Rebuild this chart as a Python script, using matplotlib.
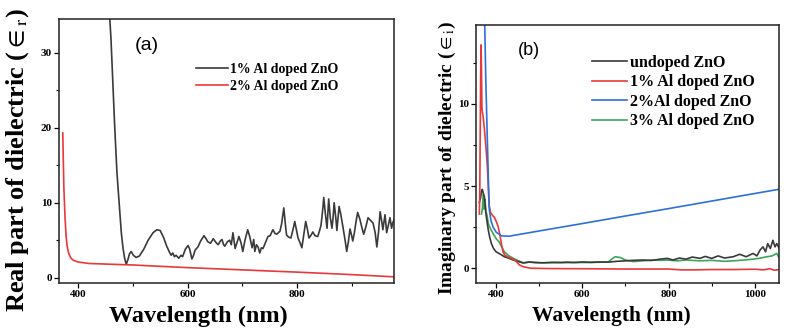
import numpy as np
import matplotlib
matplotlib.use('Agg')
import matplotlib.pyplot as plt
from matplotlib.ticker import MultipleLocator

plt.rcParams['font.family'] = ['Liberation Serif', 'DejaVu Serif']
plt.rcParams['mathtext.fontset'] = 'stix'

# (a) real part, 1% and 2% Al doped ZnO  -> (wavelength nm, value)
real_1pct = [(455, 38), (460, 32), (464, 25), (467, 20), (471, 14), (475, 10), (479, 6), (482, 4), (485, 2.6),
             (488, 1.8), (491, 2.4), (494, 3.2), (497, 3.5), (501, 3.0), (506, 2.7), (512, 2.9), (520, 3.8),
             (528, 5.0), (537, 6.0), (544, 6.4), (550, 6.3), (556, 5.4), (562, 4.2), (567, 3.4), (570, 3.0),
             (573, 3.3), (576, 2.8), (579, 3.0), (584, 2.6), (588, 3.0), (591, 2.8), (596, 3.8), (601, 4.3),
             (604, 3.8), (608, 2.5), (611, 3.0), (614, 3.7), (619, 4.1), (624, 4.9), (630, 5.6), (634, 5.2),
             (637, 4.8), (642, 4.6), (647, 5.2), (652, 4.7), (656, 4.4), (660, 4.9), (663, 5.1), (666, 4.4),
             (668, 4.2), (673, 4.8), (677, 5.0), (680, 4.4), (683, 6.0), (687, 3.9), (690, 4.6), (694, 5.5),
             (698, 4.6), (701, 3.5), (705, 5.0), (710, 6.4), (714, 5.4), (718, 4.0), (721, 5.1), (723, 3.5),
             (726, 4.4), (729, 4.1), (732, 3.3), (735, 4.0), (738, 3.9), (742, 4.6), (747, 5.5), (751, 5.6),
             (756, 6.4), (760, 5.9), (763, 5.8), (766, 6.0), (769, 6.2), (772, 7.2), (776, 9.3), (779, 7.0),
             (781, 5.7), (785, 5.4), (789, 5.3), (793, 6.5), (796, 7.5), (799, 6.4), (802, 5.3), (806, 4.6),
             (809, 4.0), (812, 5.5), (816, 7.5), (819, 6.5), (822, 5.3), (826, 5.7), (829, 6.1), (833, 5.6),
             (838, 5.5), (841, 6.2), (844, 7.0), (847, 9.0), (849, 10.7), (852, 8.5), (855, 6.6), (858, 10.5),
             (861, 8.0), (864, 6.6), (866, 8.0), (868, 10.0), (871, 8.0), (873, 6.3), (877, 9.5), (880, 8.5),
             (884, 6.8), (888, 5.0), (891, 3.5), (894, 4.8), (897, 6.5), (900, 5.6), (902, 4.9), (905, 6.0),
             (908, 7.5), (911, 8.7), (915, 7.8), (919, 6.6), (922, 5.8), (926, 6.8), (930, 8.0), (935, 7.6),
             (939, 7.3), (943, 6.0), (946, 4.1), (949, 6.0), (952, 8.8), (955, 7.5), (957, 6.4), (961, 8.4),
             (964, 6.0), (967, 7.0), (970, 8.0), (973, 6.6), (975, 7.3), (978, 7.8)]
real_2pct = [(372, 19.3), (373, 15.5), (374, 12.0), (376, 8.2), (378, 5.6), (380, 4.2), (383, 3.2), (387, 2.6),
             (392, 2.3), (400, 2.1), (420, 1.9), (500, 1.7), (600, 1.35), (700, 1.05), (800, 0.75), (900, 0.42),
             (978, 0.12)]

# (b) imaginary part
imag_undoped = [(361, 4.0), (364, 4.3), (366, 4.7), (368, 4.8), (370, 4.6), (373, 4.3), (376, 3.4), (379, 2.8),
                (382, 2.3), (385, 1.9), (389, 1.5), (394, 1.2), (400, 1.0), (410, 0.85), (419, 0.7), (430, 0.6),
                (440, 0.5), (452, 0.4), (463, 0.32), (477, 0.38), (490, 0.35), (510, 0.33), (530, 0.36),
                (550, 0.35), (565, 0.37), (580, 0.35), (600, 0.38), (620, 0.36), (640, 0.38), (660, 0.37),
                (680, 0.42), (700, 0.45), (718, 0.48), (740, 0.5), (760, 0.47), (780, 0.55), (797, 0.6),
                (810, 0.5), (825, 0.62), (840, 0.55), (855, 0.68), (873, 0.6), (885, 0.72), (900, 0.6),
                (915, 0.75), (930, 0.62), (950, 0.7), (965, 0.85), (980, 0.7), (996, 0.9), (1005, 0.75),
                (1012, 1.1), (1019, 1.3), (1025, 1.0), (1030, 1.5), (1036, 1.2), (1042, 1.7), (1047, 1.3),
                (1051, 1.5), (1057, 1.2)]
imag_1pct = [(361, 3.3), (362, 4.5), (363, 8), (364, 11.5), (365, 13.6), (366, 12.0), (367, 9.8), (368, 9.5),
             (370, 9.2), (373, 8.4), (375, 7.8), (378, 6.8), (380, 6.0), (382, 4.8), (384, 3.8), (387, 3.4),
             (392, 3.2), (396, 3.1), (401, 2.8), (405, 2.5), (409, 2.0), (412, 1.5), (416, 1.0), (420, 0.8),
             (430, 0.65), (440, 0.55), (447, 0.4), (454, 0.2), (462, 0.1), (470, 0.05), (481, 0.0), (520, -0.02),
             (600, -0.03), (700, -0.05), (800, -0.05), (830, -0.1), (860, -0.1), (900, -0.08), (950, -0.08),
             (1000, -0.06), (1020, -0.1), (1035, -0.03), (1045, -0.12), (1057, -0.08)]
imag_2pct = [(373, 15.5), (376, 11.5), (379, 8.4), (382, 5.4), (384, 3.6), (388, 2.9), (393, 2.5), (400, 2.2),
             (412, 1.97), (430, 1.95), (500, 2.27), (600, 2.72), (700, 3.18), (800, 3.63), (900, 4.09),
             (1000, 4.55), (1057, 4.81)]
imag_3pct = [(366, 3.3), (368, 3.6), (370, 4.5), (372, 3.6), (374, 4.2), (376, 3.5), (379, 3.2), (382, 2.7),
             (387, 2.4), (393, 2.1), (400, 1.8), (407, 1.6), (413, 1.3), (419, 1.0), (430, 0.75), (440, 0.6),
             (452, 0.45), (463, 0.33), (477, 0.37), (500, 0.33), (560, 0.34), (620, 0.35), (660, 0.38),
             (668, 0.55), (676, 0.7), (688, 0.65), (700, 0.5), (718, 0.4), (740, 0.45), (760, 0.5), (780, 0.48),
             (797, 0.5), (820, 0.45), (840, 0.5), (873, 0.45), (900, 0.48), (930, 0.42), (950, 0.45),
             (975, 0.5), (996, 0.55), (1010, 0.6), (1028, 0.7), (1040, 0.75), (1051, 0.9), (1057, 0.6)]

c_black = '#3a3a3a'
c_red = '#e8383a'
c_blue = '#2f6fd8'
c_green = '#3da55a'


def xy(pairs):
    arr = np.array(pairs, dtype=float)
    return arr[:, 0], arr[:, 1]


def style_axes(ax):
    for sp in ax.spines.values():
        sp.set_linewidth(1.1)
        sp.set_color('#222222')
    ax.tick_params(which='major', direction='out', length=3.5, width=0.9, labelsize=8, pad=1.5,
                   top=False, right=False)
    ax.tick_params(which='minor', direction='out', length=2, width=0.8, top=False, right=False)
    for lab in ax.get_xticklabels() + ax.get_yticklabels():
        lab.set_fontweight('bold')


fig = plt.figure(figsize=(7.86, 3.31), dpi=100)

# panel (a)
ax1 = fig.add_axes([0.075, 0.145, 0.426, 0.798])
l1, = ax1.plot(*xy(real_1pct), color=c_black, lw=1.2, label='1% Al doped ZnO')
l2, = ax1.plot(*xy(real_2pct), color=c_red, lw=1.2, label='2% Al doped ZnO')
ax1.set_xlim(365, 977)
ax1.set_ylim(-0.7, 34.5)
ax1.xaxis.set_major_locator(MultipleLocator(200))
ax1.xaxis.set_minor_locator(MultipleLocator(100))
ax1.yaxis.set_major_locator(MultipleLocator(10))
ax1.yaxis.set_minor_locator(MultipleLocator(5))
style_axes(ax1)
ax1.set_xlabel('Wavelength (nm)', fontsize=17.5, fontweight='bold')
ax1.xaxis.set_label_coords(0.415, -0.085)
ax1.set_ylabel(r'Real part of dielectric ($\in_{\mathrm{r}}$)', fontsize=19, fontweight='bold')
ax1.yaxis.set_label_coords(-0.084, 0.466)
ax1.text(0.227, 0.9, '(a)', transform=ax1.transAxes, fontsize=14, family='Liberation Sans',
         va='center', ha='left')
ax1.legend(handles=[l1, l2], loc='upper left', bbox_to_anchor=(0.41, 0.832), frameon=False,
           prop={'weight': 'bold', 'size': 10}, handlelength=2.3, handletextpad=0.15,
           labelspacing=0.25, borderaxespad=0, borderpad=0)

# panel (b)
ax2 = fig.add_axes([0.606, 0.145, 0.385, 0.779])
g, = ax2.plot(*xy(imag_3pct), color=c_green, lw=1.2, label='3% Al doped ZnO')
k, = ax2.plot(*xy(imag_undoped), color=c_black, lw=1.2, label='undoped ZnO')
r, = ax2.plot(*xy(imag_1pct), color=c_red, lw=1.2, label='1% Al doped ZnO')
b, = ax2.plot(*xy(imag_2pct), color=c_blue, lw=1.2, label='2%Al doped ZnO')
ax2.set_xlim(354, 1056)
ax2.set_ylim(-0.9, 14.8)
ax2.xaxis.set_major_locator(MultipleLocator(200))
ax2.xaxis.set_minor_locator(MultipleLocator(100))
ax2.yaxis.set_major_locator(MultipleLocator(5))
ax2.yaxis.set_minor_locator(MultipleLocator(2.5))
style_axes(ax2)
ax2.set_xlabel('Wavelength (nm)', fontsize=15.5, fontweight='bold')
ax2.xaxis.set_label_coords(0.446, -0.088)
ax2.set_ylabel(r'Imaginary part of dielectric ($\in_{\mathrm{i}}$)', fontsize=14, fontweight='bold')
ax2.yaxis.set_label_coords(-0.06, 0.484)
ax2.text(0.137, 0.9, '(b)', transform=ax2.transAxes, fontsize=13, family='Liberation Sans',
         va='center', ha='left')
ax2.legend(handles=[k, r, b, g], loc='upper left', bbox_to_anchor=(0.383, 0.885), frameon=False,
           prop={'weight': 'bold', 'size': 11.5}, handlelength=2.2, handletextpad=0.15,
           labelspacing=0.22, borderaxespad=0, borderpad=0)

fig.savefig('out.png', dpi=100)
